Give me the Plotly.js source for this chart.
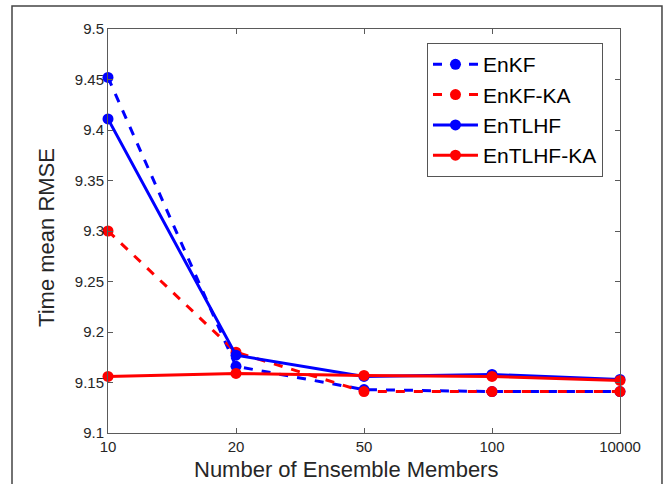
<!DOCTYPE html>
<html>
<head>
<meta charset="utf-8">
<script src="https://cdn.plot.ly/plotly-3.0.1.min.js"></script>
<style>html,body{margin:0;padding:0;background:#fff;}#chart{width:667px;height:484px;}</style>
</head>
<body>
<div id="chart"></div>
<script>
var ensembleSizes = ["10", "20", "50", "100", "10000"];
var enkf      = [9.452, 9.166, 9.143, 9.141, 9.141];
var enkfKA    = [9.300, 9.180, 9.141, 9.141, 9.141];
var entlhf    = [9.411, 9.177, 9.156, 9.158, 9.153];
var entlhfKA  = [9.156, 9.159, 9.157, 9.156, 9.152];
var yTickVals = [9.1, 9.15, 9.2, 9.25, 9.3, 9.35, 9.4, 9.45, 9.5];
var yTickText = ["9.1", "9.15", "9.2", "9.25", "9.3", "9.35", "9.4", "9.45", "9.5"];
var xTitle = "Number of Ensemble Members";
var yTitle = "Time mean RMSE";

function series(name, y, color, dash) {
  return {
    x: ensembleSizes, y: y, name: name, type: "scatter", mode: "lines+markers",
    line: {color: color, width: 3, dash: dash},
    marker: {color: color, size: 11},
    cliponaxis: false
  };
}
var data = [
  series("EnKF", enkf, "#0000ff", "dash"),
  series("EnKF-KA", enkfKA, "#ff0000", "dash"),
  series("EnTLHF", entlhf, "#0000ff", "solid"),
  series("EnTLHF-KA", entlhfKA, "#ff0000", "solid")
];
var axisColor = "#5a5a5a";
var font = "Liberation Sans, Arial, Helvetica, sans-serif";
var layout = {
  width: 667, height: 484,
  margin: {l: 108, r: 47, t: 29, b: 51},
  paper_bgcolor: "#ffffff", plot_bgcolor: "#ffffff",
  font: {family: font, color: "#262626"},
  showlegend: true,
  xaxis: {
    type: "category", range: [0, 4], showgrid: false, zeroline: false,
    showline: true, linecolor: axisColor, linewidth: 1, mirror: "ticks",
    ticks: "inside", ticklen: 5, tickcolor: axisColor,
    tickfont: {size: 15, color: "#262626"}
  },
  yaxis: {
    range: [9.1, 9.5], showgrid: false, zeroline: false,
    showline: true, linecolor: axisColor, linewidth: 1, mirror: "ticks",
    ticks: "inside", ticklen: 5, tickcolor: axisColor,
    tickvals: yTickVals, ticktext: yTickText,
    tickfont: {size: 15, color: "#262626"}
  },
  legend: {
    x: 0.623, y: 0.965, xanchor: "left", yanchor: "top",
    bgcolor: "#ffffff", bordercolor: "#555555", borderwidth: 1,
    font: {size: 21, color: "#000000"},
    itemwidth: 45, tracegroupgap: 0
  },
  annotations: [
    {text: xTitle, xref: "paper", yref: "paper", x: 0.465, y: -0.055,
     xanchor: "center", yanchor: "top", showarrow: false,
     font: {size: 22, color: "#262626", family: font}},
    {text: yTitle, xref: "paper", yref: "paper", x: -0.119, y: 0.483,
     xanchor: "center", yanchor: "middle", textangle: -90, showarrow: false,
     font: {size: 22, color: "#262626", family: font}}
  ],
  shapes: [{
    type: "rect", xref: "paper", yref: "paper",
    x0: -0.1875, x1: 1.082, y0: -0.15, y1: 1.057,
    line: {color: "#444444", width: 1.5}, fillcolor: "rgba(0,0,0,0)", layer: "below"
  }]
};
Plotly.newPlot("chart", data, layout, {displayModeBar: false, staticPlot: true});
</script>
</body>
</html>
